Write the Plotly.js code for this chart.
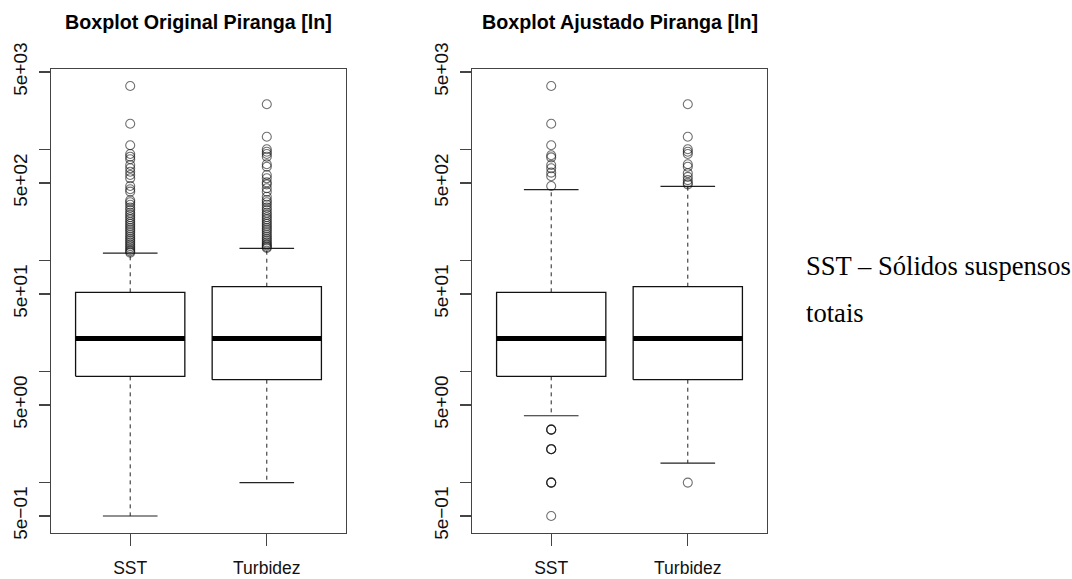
<!DOCTYPE html>
<html>
<head>
<meta charset="utf-8">
<script src="https://cdn.plot.ly/plotly-3.0.1.min.js"></script>
<style>html,body{margin:0;padding:0;background:#fff;}#chart{width:1072px;height:579px;}</style>
</head>
<body>
<div id="chart"></div>
<script>
// ---------------- DATA ----------------
const categories = ['SST', 'Turbidez'];
const panelTitles = ['Boxplot Original Piranga [ln]', 'Boxplot Ajustado Piranga [ln]'];
const noteLine1 = 'SST – Sólidos suspensos';
const noteLine2 = 'totais';

// Original (panel 1) box statistics: [SST, Turbidez]
const origQ1 = [9.06, 8.45];
const origMedian = [19.9, 19.9];
const origQ3 = [51.8, 58.2];
const origLowerWhisker = [0.5, 1.0];
const origUpperWhisker = [117, 129];
const origOutliersSST = [3740, 1711, 1093, 913, 863, 818, 727, 678, 632, 590, 551, 470, 439, 418,
  350, 335, 318, 300, 285, 270, 258, 246, 235, 224, 214, 205, 196, 188, 180, 172, 165, 158, 152,
  146, 140, 135, 130, 125, 121, 118];
const origOutliersTurbidez = [2559, 1306, 1006, 957, 913, 863, 737, 701, 590, 551, 507, 486, 448,
  417, 376, 351, 335, 318, 300, 285, 270, 258, 246, 235, 224, 214, 205, 196, 188, 180, 172, 165,
  158, 152, 146, 141, 137, 133, 130];

// Adjusted (panel 2) box statistics: [SST, Turbidez]
const adjQ1 = [9.06, 8.45];
const adjMedian = [19.9, 19.9];
const adjQ3 = [51.8, 58.2];
const adjLowerWhisker = [4.0, 1.5];
const adjUpperWhisker = [435, 467];
const adjOutliersSST = [3740, 1711, 1093, 890, 850, 727, 678, 620, 575, 470, 3.0, 3.0, 3.0, 2.0, 2.0, 2.0, 1.0, 1.0, 1.0, 0.5];
const adjOutliersTurbidez = [2559, 1306, 1006, 957, 913, 737, 701, 613, 568, 531, 503, 486, 1.0];

// Y axis ticks
const yTickVals = [0.5, 1, 5, 10, 50, 100, 500, 1000, 5000];
const yTickText = ['5e\u221201', '', '5e+00', '', '5e+01', '', '5e+02', '', '5e+03'];

// ---------------- DRAWING ----------------
const HALF_BOX = 0.4, HALF_STAPLE = 0.2;
const traces = [];
function panel(xa, ya, q1, med, q3, lo, hi, outs) {
  categories.forEach((c, i) => {
    const x = i + 1;
    // whiskers (dashed)
    traces.push({type: 'scatter', mode: 'lines', xaxis: xa, yaxis: ya, hoverinfo: 'skip', showlegend: false,
      x: [x, x, null, x, x], y: [q3[i], hi[i], null, q1[i], lo[i]],
      line: {color: '#222', width: 1, dash: '4px,4px'}});
    // staples
    traces.push({type: 'scatter', mode: 'lines', xaxis: xa, yaxis: ya, hoverinfo: 'skip', showlegend: false,
      x: [x - HALF_STAPLE, x + HALF_STAPLE, null, x - HALF_STAPLE, x + HALF_STAPLE],
      y: [hi[i], hi[i], null, lo[i], lo[i]],
      line: {color: '#222', width: 1.2}});
    // box
    traces.push({type: 'scatter', mode: 'lines', xaxis: xa, yaxis: ya, hoverinfo: 'skip', showlegend: false,
      x: [x - HALF_BOX, x + HALF_BOX, x + HALF_BOX, x - HALF_BOX, x - HALF_BOX],
      y: [q1[i], q1[i], q3[i], q3[i], q1[i]],
      fill: 'toself', fillcolor: '#fff',
      line: {color: '#111', width: 1.3}});
    // median
    traces.push({type: 'scatter', mode: 'lines', xaxis: xa, yaxis: ya, hoverinfo: 'skip', showlegend: false,
      x: [x - HALF_BOX, x + HALF_BOX], y: [med[i], med[i]],
      line: {color: '#000', width: 5}});
    // outliers
    traces.push({type: 'scatter', mode: 'markers', xaxis: xa, yaxis: ya, hoverinfo: 'skip', showlegend: false,
      x: outs[i].map(() => x), y: outs[i],
      marker: {symbol: 'circle-open', size: 9, color: '#111', opacity: 0.6, line: {width: 1.1, color: '#111'}}});
  });
}
panel('x', 'y', origQ1, origMedian, origQ3, origLowerWhisker, origUpperWhisker, [origOutliersSST, origOutliersTurbidez]);
panel('x2', 'y2', adjQ1, adjMedian, adjQ3, adjLowerWhisker, adjUpperWhisker, [adjOutliersSST, adjOutliersTurbidez]);

const W = 1072, H = 579;
const SANS = 'Liberation Sans, Arial, sans-serif';
const yDom = [1 - 533 / H, 1 - 69 / H];
function xAxis(l, r) {
  return {domain: [l / W, r / W], range: [0.42, 2.58], tickvals: [1, 2], ticktext: categories,
    showline: true, mirror: true, linecolor: '#444', linewidth: 1.3, ticks: 'outside', ticklen: 12,
    tickcolor: '#444', tickwidth: 1.3, showgrid: false, zeroline: false, fixedrange: true,
    tickfont: {family: SANS, size: 17.5, color: '#111'}, ticklabelstandoff: 7};
}
function yAxis(anchor) {
  return {domain: yDom, type: 'log', range: [-0.454, 3.726], anchor: anchor, tickvals: yTickVals, ticktext: yTickText,
    tickangle: -90, showline: true, mirror: true, linecolor: '#444', linewidth: 1.3, ticks: 'outside', ticklen: 11,
    tickcolor: '#444', tickwidth: 1.3, showgrid: false, zeroline: false, fixedrange: true,
    tickfont: {family: SANS, size: 19, color: '#111'}, ticklabelstandoff: 4};
}

const layout = {
  width: W, height: H, margin: {l: 0, r: 0, t: 0, b: 0},
  paper_bgcolor: '#fff', plot_bgcolor: '#fff', showlegend: false,
  xaxis: Object.assign(xAxis(51, 346), {anchor: 'y'}),
  yaxis: yAxis('x'),
  xaxis2: Object.assign(xAxis(472, 767), {anchor: 'y2'}),
  yaxis2: yAxis('x2'),
  annotations: [
    {text: '<b>' + panelTitles[0] + '</b>', xref: 'paper', yref: 'paper', x: 198.5 / W, y: 1 - 21.5 / H,
      xanchor: 'center', yanchor: 'middle', showarrow: false,
      font: {family: SANS, size: 19.7, color: '#000'}},
    {text: '<b>' + panelTitles[1] + '</b>', xref: 'paper', yref: 'paper', x: 619.5 / W, y: 1 - 21.5 / H,
      xanchor: 'center', yanchor: 'middle', showarrow: false,
      font: {family: SANS, size: 19.7, color: '#000'}},
    {text: noteLine1, xref: 'paper', yref: 'paper', x: 804 / W, y: 1 - 266 / H, xanchor: 'left', yanchor: 'middle',
      showarrow: false, font: {family: 'Liberation Serif, Times New Roman, serif', size: 26.6, color: '#000'}},
    {text: noteLine2, xref: 'paper', yref: 'paper', x: 804 / W, y: 1 - 313 / H, xanchor: 'left', yanchor: 'middle',
      showarrow: false, font: {family: 'Liberation Serif, Times New Roman, serif', size: 26.6, color: '#000'}}
  ]
};

Plotly.newPlot('chart', traces, layout, {displayModeBar: false, staticPlot: true});
</script>
</body>
</html>
